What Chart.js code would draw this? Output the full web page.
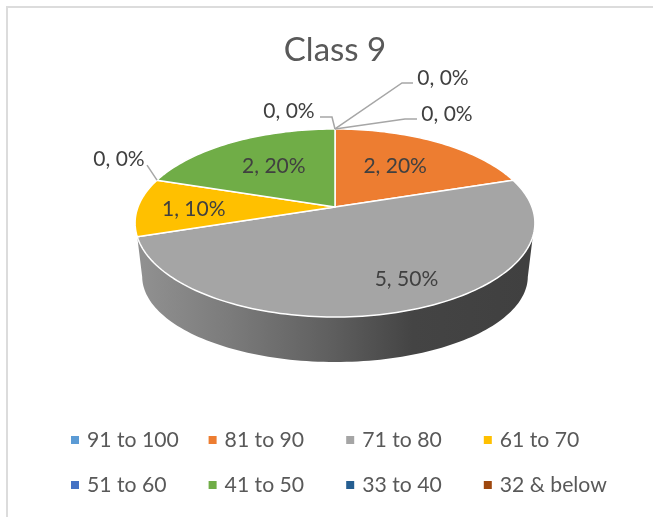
<!DOCTYPE html>
<html>
<head>
<meta charset="utf-8">
<style>html,body{margin:0;padding:0;background:#fff}canvas{display:block}</style>
<script src="https://cdn.jsdelivr.net/npm/chart.js@4"></script>
</head>
<body>
<canvas id="c" width="653" height="517"></canvas>
<script>
const categories = ['91 to 100','81 to 90','71 to 80','61 to 70','51 to 60','41 to 50','33 to 40','32 & below'];
const students = [0,2,5,1,0,2,0,0];
const colors = ['#5b9bd5','#ed7d31','#a5a5a5','#ffc000','#4472c4','#70ad47','#255e91','#9e480e'];
const chartTitle = 'Class 9';

const FONT = 'Lato, "Open Sans", sans-serif';
// perspective used for the tilted pie
const top3d = {rx:197, ry:91.3, k:0.17, dy:0};
const bottom3d = {rx:190, ry:83, k:0.17, dy:55};
// label placement by category index: inner labels offset from a point inside the slice,
// outer labels offset from the rim point with an elbow for the leader line
const inner = {1:[-4,0],2:[31,15],3:[-23,2],5:[3,0]};
const outer = {
  0:{label:[112,-15],elbow:[70,-10],end:[82,-10]},
  4:{label:[-41,-21],elbow:[-10,-15],end:[-10,-15]},
  6:{label:[-46,-18],elbow:[-3,-12],end:[-15,-12]},
  7:{label:[108,-51],elbow:[67,-46],end:[78,-46]}
};
outer[4].label[0] = -38;

function project(arc, p, angle, r){
  const u = Math.cos(angle)*r, v = Math.sin(angle)*r, d = 1 - p.k*v;
  return {x: arc.x + p.rx*u/d, y: arc.y + p.dy + p.ry*v/d};
}
function tracePath(ctx, arc, p, a0, a1, first){
  const n = Math.max(2, Math.ceil(Math.abs(a1-a0)*40));
  for(let i=0;i<=n;i++){
    const q = project(arc, p, a0+(a1-a0)*i/n, 1);
    if(i===0 && first) ctx.moveTo(q.x,q.y); else ctx.lineTo(q.x,q.y);
  }
}

const tiltedPie = {
  id:'tiltedPie',
  beforeDraw(chart){
    const ctx = chart.ctx;
    ctx.save();
    ctx.fillStyle='#fff';
    ctx.fillRect(0,0,chart.width,chart.height);
    ctx.strokeStyle='#dcdcdc';
    ctx.lineWidth=2;
    ctx.beginPath();
    ctx.moveTo(7,chart.height);
    ctx.lineTo(7,7);
    ctx.lineTo(chart.width,7);
    ctx.stroke();
    ctx.restore();
  },
  beforeDatasetDraw(chart){
    const ctx = chart.ctx;
    const arcs = chart.getDatasetMeta(0).data;
    const c = arcs[0];
    ctx.save();
    // rim of the pie
    const g = ctx.createLinearGradient(143,0,527,0);
    g.addColorStop(0,'#909090');
    g.addColorStop(0.227,'#7b7b7b');
    g.addColorStop(0.487,'#5f5f5f');
    g.addColorStop(0.703,'#444444');
    g.addColorStop(1,'#404040');
    ctx.fillStyle = g;
    ctx.beginPath();
    tracePath(ctx,c,top3d,Math.PI*0.1,Math.PI*0.9,true);
    tracePath(ctx,c,bottom3d,Math.PI*0.944,Math.PI*0.056,false);
    ctx.closePath();
    ctx.fill();
    // top face
    arcs.forEach((arc,i)=>{
      if(!students[i]) return;
      ctx.beginPath();
      ctx.moveTo(arc.x,arc.y);
      tracePath(ctx,arc,top3d,arc.startAngle,arc.endAngle,false);
      ctx.closePath();
      ctx.fillStyle=colors[i];
      ctx.fill();
      ctx.strokeStyle='#fff';
      ctx.lineWidth=1.5;
      ctx.lineJoin='round';
      ctx.stroke();
    });
    ctx.restore();
    return false;
  },
  afterDatasetsDraw(chart){
    const ctx = chart.ctx;
    const arcs = chart.getDatasetMeta(0).data;
    const total = students.reduce((a,b)=>a+b,0);
    ctx.save();
    ctx.font = '21px '+FONT;
    ctx.textAlign='center';
    ctx.textBaseline='middle';
    arcs.forEach((arc,i)=>{
      const text = students[i]+', '+Math.round(students[i]/total*100)+'%';
      const mid = (arc.startAngle+arc.endAngle)/2;
      if(students[i]){
        const q = project(arc,top3d,mid,0.6);
        const o = inner[i];
        ctx.fillStyle='#404040';
        ctx.fillText(text,q.x+o[0],q.y+o[1]);
      } else {
        const q = project(arc,top3d,mid,1);
        const o = outer[i];
        ctx.strokeStyle='#a6a6a6';
        ctx.lineWidth=1.5;
        ctx.beginPath();
        ctx.moveTo(q.x,q.y);
        ctx.lineTo(q.x+o.elbow[0],q.y+o.elbow[1]);
        ctx.lineTo(q.x+o.end[0],q.y+o.end[1]);
        ctx.stroke();
        ctx.fillStyle='#404040';
        ctx.fillText(text,q.x+o.label[0],q.y+o.label[1]);
      }
    });
    // legend in two rows of four columns
    ctx.textAlign='left';
    ctx.font = '21.2px '+FONT;
    categories.forEach((name,i)=>{
      const col = i%4, row = Math.floor(i/4);
      const x = 71+col*137.6, y = 440+row*45;
      ctx.fillStyle=colors[i];
      ctx.fillRect(x,y-4,8,8);
      ctx.fillStyle='#595959';
      ctx.fillText(name,x+16,y);
    });
    ctx.restore();
  }
};

new Chart(document.getElementById('c'),{
  type:'pie',
  data:{labels:categories,datasets:[{data:students,backgroundColor:colors,borderWidth:0}]},
  options:{
    responsive:false,
    animation:false,
    layout:{padding:{left:17,right:0,top:0,bottom:173.6}},
    plugins:{
      legend:{display:false},
      tooltip:{enabled:false},
      title:{display:true,text:chartTitle,color:'#595959',font:{family:FONT,size:33,weight:'normal'},padding:{top:31,bottom:0}}
    }
  },
  plugins:[tiltedPie]
});
</script>
</body>
</html>
